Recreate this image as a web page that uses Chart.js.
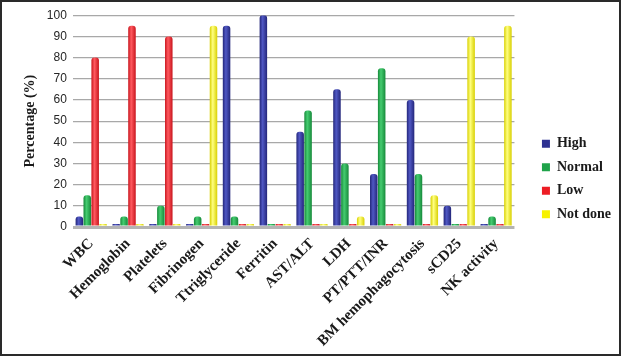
<!DOCTYPE html>
<html>
<head>
<meta charset="utf-8">
<script src="https://cdn.jsdelivr.net/npm/chart.js@4"></script>
<style>
    html, body { margin: 0; padding: 0; background: #fff; }
    #wrap {
        width: 621px; height: 356px; box-sizing: border-box;
        border: 2px solid #2a2a2a; background: #fff;
    }
    #chart { display: block; }
</style>
</head>
<body>
<div id="wrap"><canvas id="chart" width="617" height="352"></canvas></div>
<script>
    // categories and series (percent)
    const categories = ['WBC', 'Hemoglobin', 'Platelets', 'Fibrinogen', 'Ttriglyceride', 'Ferritin',
        'AST/ALT', 'LDH', 'PT/PTT/INR', 'BM hemophagocytosis', 'sCD25', 'NK activity'];
    const high    = [5, 0, 0, 0, 95, 100, 45, 65, 25, 60, 10, 0];
    const normal  = [15, 5, 10, 5, 5, 0, 55, 30, 75, 25, 0, 5];
    const low     = [80, 95, 90, 0, 0, 0, 0, 0, 0, 0, 0, 0];
    const notDone = [0, 0, 0, 95, 0, 0, 0, 5, 0, 15, 90, 95];
    const yTicks  = [0, 10, 20, 30, 40, 50, 60, 70, 80, 90, 100];

    const serif = "'Liberation Serif', 'Times New Roman', serif";
    const sans = "'Liberation Sans', Arial, sans-serif";

    // edge / light shade of each series, for the rounded "cylinder" look
    const shades = {
        'High': ['#23267a', '#5058c4'],
        'Normal': ['#168a3a', '#45cc70'],
        'Low': ['#c8141c', '#ff5a60'],
        'Not done': ['#d8d000', '#ffff80']
    };

    function series(label, data, color) {
        return {
            label: label,
            data: data,
            // function so every bar gets its own options object (shaded below)
            backgroundColor: () => color,
            borderColor: color,
            borderWidth: 0,
            borderRadius: { topLeft: 3, topRight: 3 },
            borderSkipped: 'bottom',
            minBarLength: 3,
            barPercentage: 0.95,
            categoryPercentage: 0.86
        };
    }

    // shade each bar with a horizontal gradient so it reads as a cylinder
    const cylinderShade = {
        id: 'cylinderShade',
        beforeDatasetsDraw(chart) {
            const ctx = chart.ctx;
            chart.data.datasets.forEach((ds, i) => {
                const s = shades[ds.label];
                chart.getDatasetMeta(i).data.forEach(bar => {
                    const x0 = bar.x - bar.width / 2;
                    const g = ctx.createLinearGradient(x0, 0, x0 + bar.width, 0);
                    g.addColorStop(0, s[0]);
                    g.addColorStop(0.4, s[1]);
                    g.addColorStop(1, s[0]);
                    bar.options.backgroundColor = g;
                });
            });
        }
    };

    // leave a gap between plot and legend like the original
    const legendGap = {
        id: 'legendGap',
        afterLayout(chart) {
            if (chart.legend) {
                chart.legend.left += 18;
                chart.legend.right += 18;
            }
        }
    };

    new Chart(document.getElementById('chart').getContext('2d'), {
        type: 'bar',
        data: {
            labels: categories,
            datasets: [
                series('High', high, '#2e3192'),
                series('Normal', normal, '#1fa34a'),
                series('Low', low, '#ed1c24'),
                series('Not done', notDone, '#f7f200')
            ]
        },
        plugins: [cylinderShade, legendGap],
        options: {
            responsive: false,
            animation: false,
            layout: { padding: { top: 6, left: 20, right: 16, bottom: 4 } },
            plugins: {
                tooltip: { enabled: false },
                legend: {
                    position: 'right',
                    align: 'center',
                    labels: {
                        boxWidth: 8,
                        boxHeight: 8,
                        padding: 9.5,
                        color: '#1a1a1a',
                        font: { family: serif, size: 14, weight: 'bold' }
                    }
                }
            },
            scales: {
                x: {
                    grid: { display: false },
                    border: { display: false },
                    ticks: {
                        color: '#1a1a1a',
                        minRotation: 45,
                        maxRotation: 45,
                        padding: 0,
                        font: { family: serif, size: 15, weight: 'bold' }
                    }
                },
                y: {
                    min: 0,
                    max: 100,
                    afterBuildTicks: function(axis) {
                        axis.ticks = yTicks.map(v => ({ value: v }));
                    },
                    border: { display: false },
                    grid: {
                        color: ctx => ctx.tick && ctx.tick.value === 0 ? '#b4b4b4' : '#a8a8a8',
                        lineWidth: ctx => ctx.tick && ctx.tick.value === 0 ? 3 : 1.2,
                        drawTicks: false
                    },
                    ticks: {
                        color: '#262626',
                        padding: 6,
                        font: { family: sans, size: 12 }
                    },
                    title: {
                        display: true,
                        text: 'Percentage (%)',
                        color: '#1a1a1a',
                        padding: { top: 0, bottom: 2 },
                        font: { family: serif, size: 14, weight: 'bold' }
                    }
                }
            }
        }
    });
</script>
</body>
</html>
